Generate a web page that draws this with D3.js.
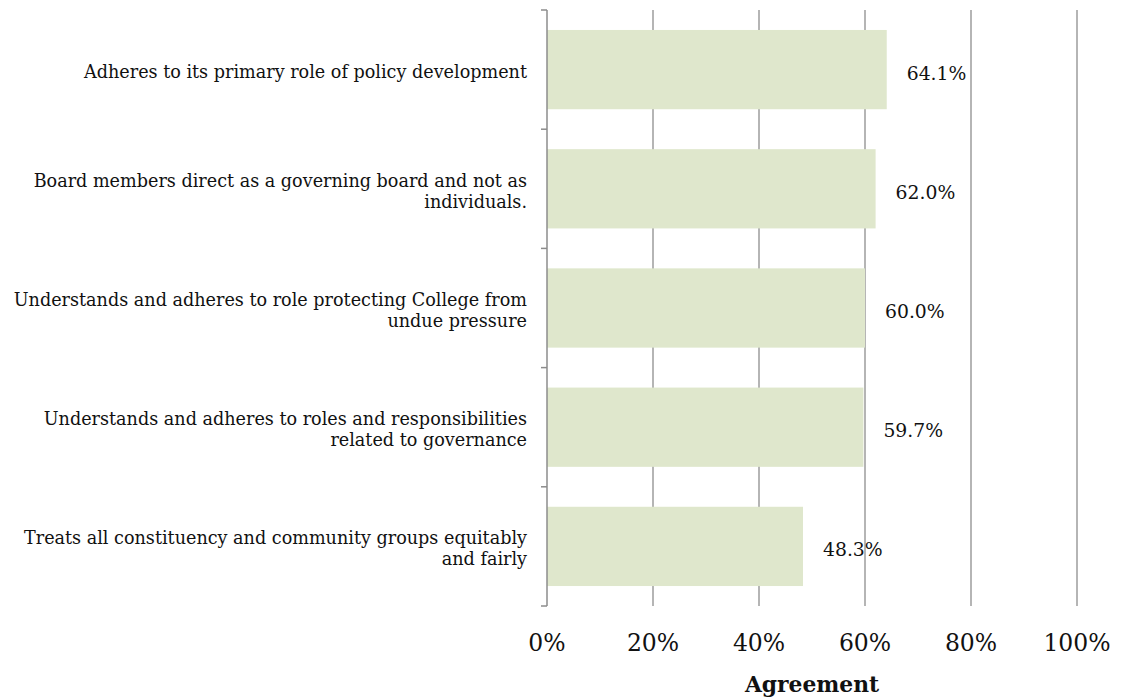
<!DOCTYPE html>
<html>
<head>
<meta charset="utf-8">
<script src="https://cdn.jsdelivr.net/npm/d3@7"></script>
<style>
  html, body { margin: 0; padding: 0; background: #fff; }
  svg { display: block; }
  text { font-family: "DejaVu Serif", "Liberation Serif", serif; fill: #111; }
</style>
</head>
<body>
<svg id="chart" width="1123" height="700"></svg>
<script>
// Board governance items, top to bottom
const categories = [
  ["Adheres to its primary role of policy development"],
  ["Board members direct as a governing board and not as", "individuals."],
  ["Understands and adheres to role protecting College from", "undue pressure"],
  ["Understands and adheres to roles and responsibilities", "related to governance"],
  ["Treats all constituency and community groups equitably", "and fairly"]
];
const agreement = [64.1, 62.0, 60.0, 59.7, 48.3];
const xTicks = [0, 20, 40, 60, 80, 100];
const axisTitle = "Agreement";

const svg = d3.select("#chart");
const plot = { left: 547, right: 1077, top: 10, bottom: 606 };

const x = d3.scaleLinear().domain([0, 100]).range([plot.left, plot.right]);
const y = d3.scaleBand()
  .domain(d3.range(categories.length))
  .range([plot.top, plot.bottom])
  .paddingInner(0.335)
  .paddingOuter(0.1675);

const grid = "#b5b5b5";

// vertical gridlines
svg.append("g")
  .selectAll("line")
  .data(xTicks.filter(t => t > 0))
  .join("line")
  .attr("x1", d => x(d)).attr("x2", d => x(d))
  .attr("y1", plot.top).attr("y2", plot.bottom)
  .attr("stroke", grid).attr("stroke-width", 2);

// bars
svg.append("g")
  .selectAll("rect")
  .data(agreement)
  .join("rect")
  .attr("x", x(0))
  .attr("y", (d, i) => y(i))
  .attr("width", d => x(d) - x(0))
  .attr("height", y.bandwidth())
  .attr("fill", "#dfe7cc");

// value labels
svg.append("g")
  .selectAll("text")
  .data(agreement)
  .join("text")
  .attr("x", d => x(d) + 20)
  .attr("y", (d, i) => y(i) + y.bandwidth() / 2 + 10)
  .style("font-size", "18.8px")
  .text(d => d.toFixed(1) + "%");

// left axis line with category separators
const step = y.step();
const boundaries = d3.range(categories.length + 1).map(i => plot.top + i * step);
svg.append("line")
  .attr("x1", plot.left).attr("x2", plot.left)
  .attr("y1", plot.top).attr("y2", plot.bottom)
  .attr("stroke", "#8c8c8c").attr("stroke-width", 1.5);
svg.append("g")
  .selectAll("line")
  .data(boundaries)
  .join("line")
  .attr("x1", plot.left - 6).attr("x2", plot.left)
  .attr("y1", d => d).attr("y2", d => d)
  .attr("stroke", "#8c8c8c").attr("stroke-width", 1.5);

// category labels
const lineH = 21;
const cat = svg.append("g")
  .selectAll("text")
  .data(categories)
  .join("text")
  .attr("text-anchor", "end")
  .style("font-size", "17.6px")
  .attr("y", (d, i) => y(i) + y.bandwidth() / 2 + 8.2 - (d.length - 1) * lineH / 2);
cat.selectAll("tspan")
  .data(d => d)
  .join("tspan")
  .attr("x", 527)
  .attr("dy", (d, i) => i === 0 ? 0 : lineH)
  .text(d => d);

// bottom tick labels
svg.append("g")
  .selectAll("text")
  .data(xTicks)
  .join("text")
  .attr("x", d => x(d))
  .attr("y", 651)
  .attr("text-anchor", "middle")
  .style("font-size", "23.5px")
  .text(d => d + "%");

// axis title
svg.append("text")
  .attr("x", (plot.left + plot.right) / 2)
  .attr("y", 692)
  .attr("text-anchor", "middle")
  .style("font-size", "21.8px")
  .style("font-weight", "bold")
  .text(axisTitle);
</script>
</body>
</html>
